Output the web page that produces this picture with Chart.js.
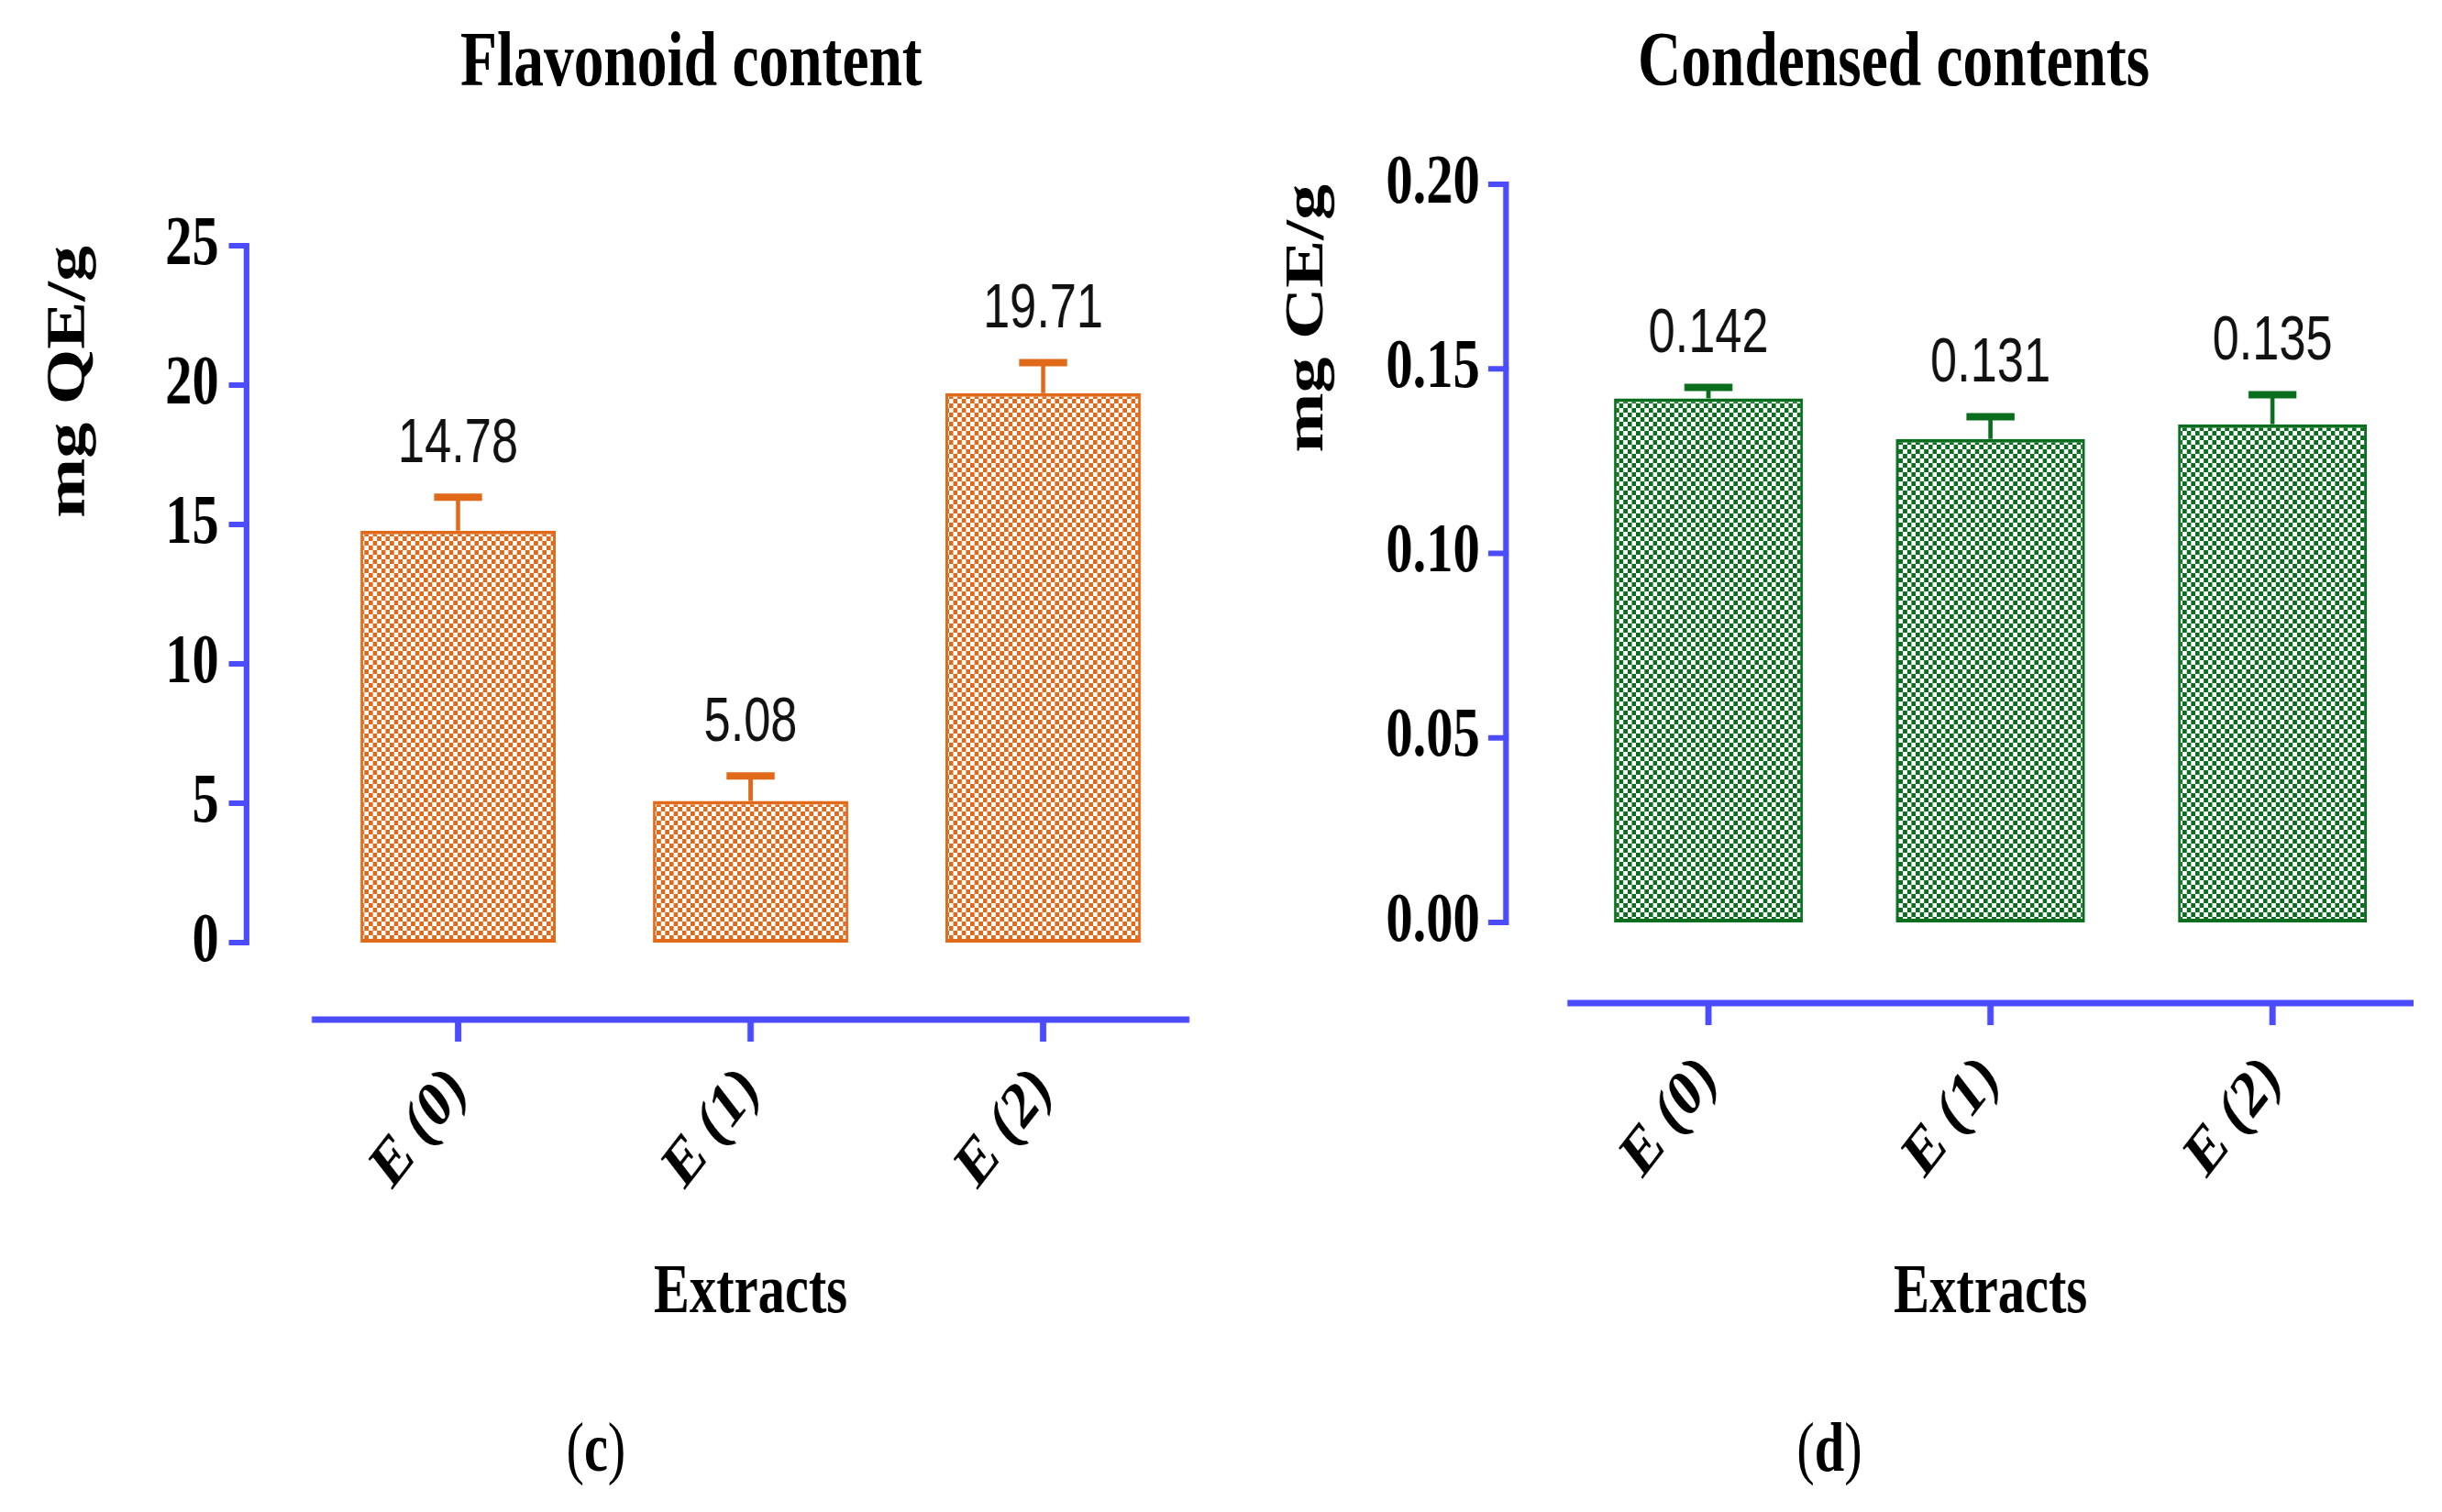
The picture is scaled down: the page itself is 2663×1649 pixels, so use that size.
<!DOCTYPE html>
<html>
<head>
<meta charset="utf-8">
<script src="https://cdn.jsdelivr.net/npm/chart.js@4.4.1/dist/chart.umd.min.js"></script>
<style>
  html, body { margin: 0; padding: 0; background: #fff; }
  body { width: 2663px; height: 1649px; overflow: hidden; position: relative; }
  /* the original figure is squeezed horizontally, so the whole sheet is too */
  #sheet { position: absolute; left: 0; top: 0; width: 3458px; height: 1649px;
           transform: scaleX(0.77); transform-origin: 0 0; }
  #sheet canvas { position: absolute; top: 0; }
  .head { position: absolute; width: 1000px; text-align: center; color: #000;
          font-family: "Liberation Serif", serif; line-height: 1; white-space: nowrap; }
  .title { font-size: 85px; font-weight: bold; top: 22px; }
  .tag { font-size: 76px; top: 1540px; }
</style>
</head>
<body>
<div id="sheet">
  <div class="head title" style="left:479px">Flavonoid content</div>
  <div class="head title" style="left:2182px">Condensed contents</div>
  <div class="head tag" style="left:344px">(<b>c</b>)</div>
  <div class="head tag" style="left:2091px">(<b>d</b>)</div>
  <canvas id="flavonoid" width="1729" height="1649" style="left:0"></canvas>
  <canvas id="condensed" width="1729" height="1649" style="left:1729px"></canvas>
</div>

<script>
var extracts = ["E (0)", "E (1)", "E (2)"];

var flavonoid = [14.78, 5.08, 19.71];
var flavonoidSd = [1.2, 0.9, 1.1];
var flavonoidTicks = [0, 5, 10, 15, 20, 25];

var condensed = [0.142, 0.131, 0.135];
var condensedSd = [0.003, 0.006, 0.008];
var condensedTicks = [0, 0.05, 0.10, 0.15, 0.20];

var AXIS_BLUE = "#4B4BFF";
var ORANGE = "#E0691A";
var GREEN = "#0B6E1E";

Chart.defaults.font.family = '"Liberation Serif", serif';
Chart.defaults.color = "#000";

// checkerboard fill like the GraphPad bars
function checker(ctx, color) {
    var c = document.createElement("canvas");
    c.width = 12;
    c.height = 10;
    var g = c.getContext("2d");
    g.fillStyle = "#fff";
    g.fillRect(0, 0, 12, 10);
    g.fillStyle = color;
    g.fillRect(0, 0, 6, 5);
    g.fillRect(6, 5, 6, 5);
    return ctx.createPattern(c, "repeat");
}

// detached axes, upper error bars and value labels
var decor = {
    id: "decor",
    afterDatasetsDraw: function (chart, args, opts) {
        var ctx = chart.ctx;
        var y = chart.scales.y;
        var ds = chart.data.datasets[0];
        var meta = chart.getDatasetMeta(0);
        ctx.save();
        meta.data.forEach(function (bar, i) {
            var top = y.getPixelForValue(ds.data[i] + ds.errors[i]);
            ctx.strokeStyle = ds.borderColor;
            ctx.lineWidth = 6;
            ctx.beginPath();
            ctx.moveTo(bar.x, bar.y);
            ctx.lineTo(bar.x, top);
            ctx.stroke();
            ctx.lineWidth = 8;
            ctx.beginPath();
            ctx.moveTo(bar.x - 34, top);
            ctx.lineTo(bar.x + 34, top);
            ctx.stroke();
            ctx.fillStyle = "#111";
            ctx.font = '68px "Liberation Sans", Arial, sans-serif';
            ctx.textAlign = "center";
            ctx.textBaseline = "middle";
            ctx.fillText(String(ds.data[i]), bar.x, top - 57);
        });
        ctx.restore();
    },
    afterDraw: function (chart, args, opts) {
        var ctx = chart.ctx;
        var area = chart.chartArea;
        var x = chart.scales.x;
        var y = chart.scales.y;
        var ax = area.left - opts.yGap;
        var ay = area.bottom + opts.xGap;
        ctx.save();
        ctx.strokeStyle = AXIS_BLUE;

        // y axis
        ctx.lineWidth = 8;
        ctx.beginPath();
        ctx.moveTo(ax, y.getPixelForValue(y.max) - 3);
        ctx.lineTo(ax, y.getPixelForValue(y.min) + 3);
        ctx.stroke();
        ctx.lineWidth = 6;
        y.ticks.forEach(function (t) {
            var py = y.getPixelForValue(t.value);
            ctx.beginPath();
            ctx.moveTo(ax - 25, py);
            ctx.lineTo(ax + 4, py);
            ctx.stroke();
        });

        // x axis
        ctx.lineWidth = 7;
        ctx.beginPath();
        ctx.moveTo(area.left, ay);
        ctx.lineTo(area.right, ay);
        ctx.stroke();
        ctx.lineWidth = 9;
        x.ticks.forEach(function (t, i) {
            var px = x.getPixelForValue(i);
            ctx.beginPath();
            ctx.moveTo(px, ay);
            ctx.lineTo(px, ay + 24);
            ctx.stroke();
        });
        ctx.restore();
    }
};

function makePanel(id, values, errors, tickValues, digits, unit, color, box) {
    var canvas = document.getElementById(id);
    var ctx = canvas.getContext("2d");

    return new Chart(ctx, {
        type: "bar",
        data: {
            labels: extracts,
            datasets: [{
                data: values,
                errors: errors,
                backgroundColor: checker(ctx, color),
                borderColor: color,
                borderWidth: 4,
                borderSkipped: false,
                categoryPercentage: 1,
                barPercentage: box.barPct
            }]
        },
        options: {
            responsive: false,
            animation: false,
            events: [],
            layout: {
                padding: { top: box.top, left: 0, right: box.right, bottom: 192.4 }
            },
            plugins: {
                legend: { display: false },
                tooltip: { enabled: false },
                decor: { yGap: box.yGap, xGap: box.xGap }
            },
            scales: {
                x: {
                    offset: true,
                    grid: { display: false, drawTicks: false },
                    border: { display: false },
                    ticks: {
                        autoSkip: false,
                        minRotation: 45,
                        maxRotation: 45,
                        padding: box.xTickPad,
                        font: { size: 73, weight: "bold" }
                    },
                    title: {
                        display: true,
                        text: "Extracts",
                        padding: 0,
                        font: { size: 76, weight: "bold" }
                    },
                    afterFit: function (s) { s.height = box.xHeight; }
                },
                y: {
                    min: tickValues[0],
                    max: tickValues[tickValues.length - 1],
                    grid: { display: false, drawTicks: false },
                    border: { display: false },
                    afterBuildTicks: function (s) {
                        s.ticks = tickValues.map(function (v) { return { value: v }; });
                    },
                    ticks: {
                        padding: box.yTickPad,
                        font: { size: 76, weight: "bold" },
                        callback: function (v) { return Number(v).toFixed(digits); }
                    },
                    title: {
                        display: true,
                        text: unit,
                        align: "end",
                        padding: { top: box.yTitlePad, bottom: 0 },
                        font: { size: 78, weight: "bold" }
                    },
                    afterFit: function (s) { s.width = box.yWidth; }
                }
            }
        },
        plugins: [decor]
    });
}

makePanel("flavonoid", flavonoid, flavonoidSd, flavonoidTicks, 0, "mg QE/g", ORANGE, {
    top: 268, right: 44.5, yWidth: 441.5, xHeight: 428.6,
    yTickPad: 131.5, yTitlePad: 52, xTickPad: 119,
    yGap: 92.5, xGap: 84, barPct: 0.668
});

makePanel("condensed", condensed, condensedSd, condensedTicks, 2, "mg CE/g", GREEN, {
    top: 201, right: 40, yWidth: 490.8, xHeight: 450.6,
    yTickPad: 124, yTitlePad: 77, xTickPad: 129,
    yGap: 87, xGap: 88, barPct: 0.67
});
</script>
</body>
</html>
